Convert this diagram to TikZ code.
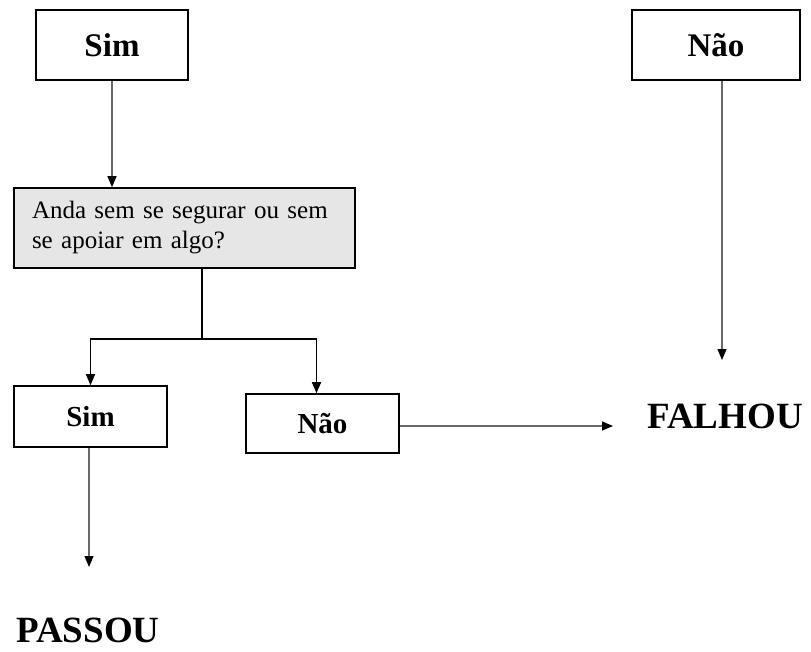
\documentclass[tikz,border=0pt]{standalone}
\usepackage{fontspec}
\setmainfont{Liberation Serif}
\usetikzlibrary{arrows.meta}
\definecolor{boxgray}{RGB}{230,230,230}
\definecolor{linegray}{RGB}{105,105,105}
\tikzstyle{answer} = [draw, line width=1.6pt, inner sep=0pt, font=\bfseries\fontsize{33}{40}\selectfont]
\tikzstyle{small} = [font=\bfseries\fontsize{29}{35}\selectfont]
\tikzstyle{question} = [draw, line width=1.6pt, fill=boxgray, inner xsep=18pt, inner ysep=0pt, align=left, font=\fontsize{25}{30}\selectfont]
\tikzstyle{result} = [inner sep=0pt, font=\bfseries\fontsize{37}{44}\selectfont]
\tikzstyle{arrow} = [draw=linegray, line width=1.2pt, -{Triangle[length=11pt, width=9pt, color=black]}]
\tikzstyle{branch} = [draw=black, line width=1.6pt, -{Triangle[length=11pt, width=9pt]}]

\begin{document}
\begin{tikzpicture}[x=1pt, y=-1pt]
	\useasboundingbox (0, 0) rectangle (811, 652);

	\node[answer, minimum width=152pt, minimum height=70pt](simtop) at (112, 45){Sim};
	\node[answer, minimum width=168pt, minimum height=70pt](naotop) at (716, 45){Não};
	\node[question, minimum width=341pt, minimum height=80pt, text width=305pt](question) at (184.5, 228){Anda sem se segurar ou sem\\se apoiar em algo?};
	\node[answer, small, minimum width=153pt, minimum height=61pt](simbot) at (90.5, 416.5){Sim};
	\node[answer, small, minimum width=153pt, minimum height=59pt](naobot) at (322.5, 423.5){Não};
	\node[result](passou) at (88, 630){PASSOU};
	\node[result](falhou) at (725, 416){FALHOU};

	\coordinate (split) at (202, 339);
	\coordinate (passouin) at (89, 567);
	\coordinate (falhoutop) at (722, 360);
	\coordinate (falhouleft) at (613, 426);

	\draw[arrow](simtop.south) -- (simtop.south |- question.north);
	\draw[branch, -](question.south -| split) -- (split);
	\draw[branch](split) -| (simbot.north);
	\draw[branch](split) -| ([xshift=-6pt]naobot.north);
	\draw[arrow](simbot.south -| passouin) -- (passouin);
	\draw[arrow](naobot.east |- falhouleft) -- (falhouleft);
	\draw[arrow](naotop.south -| falhoutop) -- (falhoutop);
\end{tikzpicture}
\end{document}
